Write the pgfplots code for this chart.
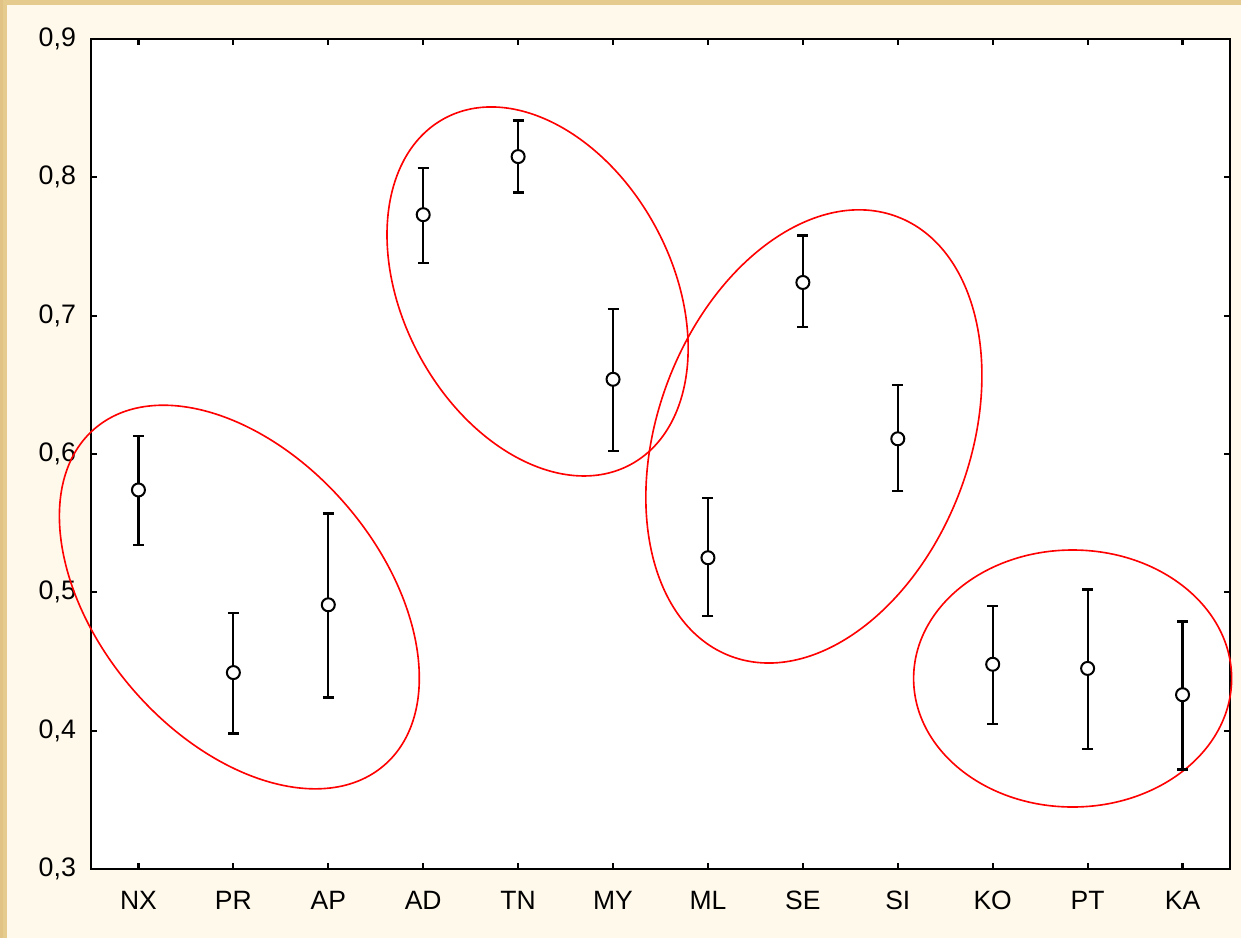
\documentclass[border=0pt]{standalone}
\usepackage{pgfplots}
\pgfplotsset{compat=1.18}
\usepackage{pgfplotstable}
\usepackage{fontspec}
\setmainfont{Liberation Sans}

\definecolor{cream}{HTML}{FFF9EC}
\definecolor{parch}{HTML}{E6CB8E}
\definecolor{parchdark}{HTML}{D9B878}

% group means with upper / lower error half-widths
\pgfplotstableread{
x  y      ep     em
0  0.574  0.039  0.040
1  0.442  0.043  0.044
2  0.491  0.066  0.067
3  0.773  0.034  0.035
4  0.815  0.026  0.026
5  0.654  0.051  0.052
6  0.525  0.043  0.042
7  0.724  0.034  0.032
8  0.611  0.039  0.038
9  0.448  0.042  0.043
10 0.445  0.057  0.058
11 0.426  0.053  0.054
}\means

\begin{document}
\begin{tikzpicture}
% page background with the parchment edge
\useasboundingbox (-36.4pt,-27.6pt) rectangle (460pt,347.6pt);
\fill[cream] (-36.4pt,-27.6pt) rectangle (460pt,347.6pt);
\fill[parch] (-36.4pt,345.6pt) rectangle (460pt,347.6pt);
\fill[parch] (-36.4pt,-27.6pt) rectangle (-33.6pt,347.6pt);
\fill[parchdark,opacity=0.4] (-36.4pt,-27.6pt) rectangle (-35.2pt,347.6pt);

\begin{axis}[
  scale only axis,
  width=455.6pt, height=332pt,
  at={(0,0)}, anchor=south west,
  axis background/.style={fill=white},
  xmin=-0.5, xmax=11.5,
  ymin=0.3, ymax=0.9,
  xtick={0,...,11},
  xticklabels={NX,PR,AP,AD,TN,MY,ML,SE,SI,KO,PT,KA},
  ytick={0.3,0.4,0.5,0.6,0.7,0.8,0.9},
  yticklabel style={
    /pgf/number format/fixed,
    /pgf/number format/fixed zerofill,
    /pgf/number format/precision=1,
    /pgf/number format/use comma,
    /pgf/number format/assume math mode=true,
    font=\fontsize{10.7}{12}\selectfont, xshift=-2.5pt},
  xticklabel style={font=\fontsize{10.6}{12}\selectfont, yshift=-5.3pt},
  tick pos=both,
  tick align=inside,
  major tick length=2.4pt,
  every tick/.style={black, line width=0.9pt},
  axis line style={line width=0.95pt},
  clip=false,
]
% group outlines
\draw[red, line width=0.65pt, rotate around={-49.3:(axis cs:1.063,0.4966)}]
  (axis cs:1.063,0.4966) ellipse [x radius=88.8pt, y radius=56.4pt];
\draw[red, line width=0.65pt, rotate around={-61.8:(axis cs:4.205,0.7175)}]
  (axis cs:4.205,0.7175) ellipse [x radius=78.6pt, y radius=53.8pt];
\draw[red, line width=0.65pt, rotate around={69.2:(axis cs:7.116,0.6127)}]
  (axis cs:7.116,0.6127) ellipse [x radius=94pt, y radius=62.4pt];
\draw[red, line width=0.65pt]
  (axis cs:9.842,0.4377) ellipse [x radius=63.6pt, y radius=51.4pt];

\addplot[
  only marks,
  mark=*,
  mark size=2.6pt,
  mark options={fill=white, draw=black, line width=0.8pt},
  error bars/.cd,
    y dir=both, y explicit,
    error bar style={line width=0.9pt, black},
    error mark options={rotate=90, mark size=2.2pt, line width=0.9pt, black},
] table[x=x, y=y, y error plus=ep, y error minus=em] {\means};
\end{axis}
\end{tikzpicture}
\end{document}
